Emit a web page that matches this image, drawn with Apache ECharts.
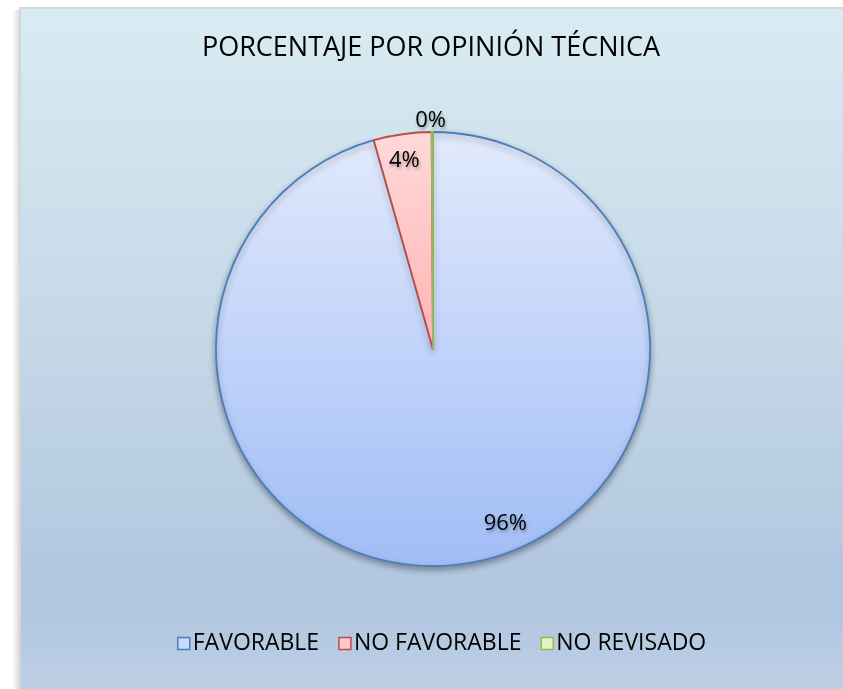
<!DOCTYPE html>
<html>
<head>
<meta charset="utf-8">
<script src="https://cdn.jsdelivr.net/npm/echarts@6/dist/echarts.min.js"></script>
<style>
  html, body { margin: 0; padding: 0; background: #fff; overflow: hidden; }
  #chart { width: 843px; height: 689px; }
</style>
</head>
<body>
<div id="chart"></div>
<script>
  // datos del gráfico
  var titulo = 'PORCENTAJE POR OPINIÓN TÉCNICA';
  var categorias = ['FAVORABLE', 'NO FAVORABLE', 'NO REVISADO'];
  var valores = [95.6, 4.3, 0.1];

  var fuente = '"Open Sans", sans-serif';
  var bordes = ['#4a7ebb', '#be4b48', '#98b954'];
  var rellenos = [
    new echarts.graphic.LinearGradient(0, 0, 0, 1, [
      { offset: 0, color: '#e2eafc' },
      { offset: 1, color: '#a0bdf6' }
    ]),
    new echarts.graphic.LinearGradient(0, 0, 0, 1, [
      { offset: 0, color: '#ffd9d9' },
      { offset: 1, color: '#ffb3b3' }
    ]),
    '#eaf7d2'
  ];
  var rellenoLeyenda = ['#c9daf8', '#ffc9c9', '#e4f5c5'];
  // desplazamiento de etiquetas respecto a la posición interior
  var ajusteEtiqueta = [[57, 64], [-13, -78], [-2, -117]];

  var chart = echarts.init(document.getElementById('chart'));

  var option = {
    backgroundColor: '#ffffff',
    animation: false,
    graphic: [{
      type: 'rect',
      z: -10,
      shape: { x: 20, y: 8, width: 900, height: 760 },
      style: {
        fill: new echarts.graphic.LinearGradient(0, 0, 0, 1, [
          { offset: 0, color: '#d9ebf2' },
          { offset: 0.45, color: '#c4d7e7' },
          { offset: 0.78, color: '#b0c5df' },
          { offset: 1, color: '#c8d9eb' }
        ]),
        stroke: '#d6d6d6',
        lineWidth: 2
      }
    }, {
      type: 'rect',
      z: -11,
      shape: { x: 12, y: 10, width: 8, height: 700 },
      style: {
        fill: new echarts.graphic.LinearGradient(0, 0, 1, 0, [
          { offset: 0, color: 'rgba(220,220,220,0)' },
          { offset: 1, color: 'rgba(200,200,200,0.8)' }
        ])
      }
    }],
    title: {
      text: titulo,
      left: 426,
      textAlign: 'center',
      top: 30,
      textStyle: {
        fontFamily: fuente,
        fontSize: 27,
        fontWeight: 'normal',
        color: '#000'
      }
    },
    legend: {
      bottom: 29,
      left: 172,
      itemWidth: 12,
      itemHeight: 12,
      itemGap: 19,
      icon: 'rect',
      textStyle: {
        fontFamily: fuente,
        fontSize: 23,
        color: '#000',
        padding: [0, 0, 0, -2]
      },
      data: categorias.map(function (c, i) {
        return {
          name: c,
          itemStyle: { color: rellenoLeyenda[i], borderColor: bordes[i], borderWidth: 1.5 }
        };
      })
    },
    series: [{
      type: 'pie',
      center: [433, 349],
      radius: [0, 217],
      startAngle: 90,
      clockwise: true,
      avoidLabelOverlap: false,
      label: {
        show: true,
        position: 'inside',
        formatter: '{d}%',
        fontFamily: fuente,
        fontSize: 22,
        color: '#000',
        textShadowColor: 'rgba(0,0,0,0.35)',
        textShadowBlur: 3,
        textShadowOffsetX: 1,
        textShadowOffsetY: 2
      },
      labelLine: { show: false },
      percentPrecision: 0,
      emphasis: { disabled: true },
      labelLayout: function (p) {
        var a = ajusteEtiqueta[p.dataIndex];
        return { dx: a[0], dy: a[1] };
      },
      data: categorias.map(function (c, i) {
        return {
          name: c,
          value: valores[i],
          itemStyle: {
            color: rellenos[i],
            borderColor: bordes[i],
            borderWidth: 1.8,
            shadowColor: i === 0 ? 'rgba(0,0,0,0.35)' : 'transparent',
            shadowBlur: i === 0 ? 6 : 0,
            shadowOffsetY: i === 0 ? 3 : 0
          }
        };
      })
    }]
  };

  chart.setOption(option);
</script>
</body>
</html>
